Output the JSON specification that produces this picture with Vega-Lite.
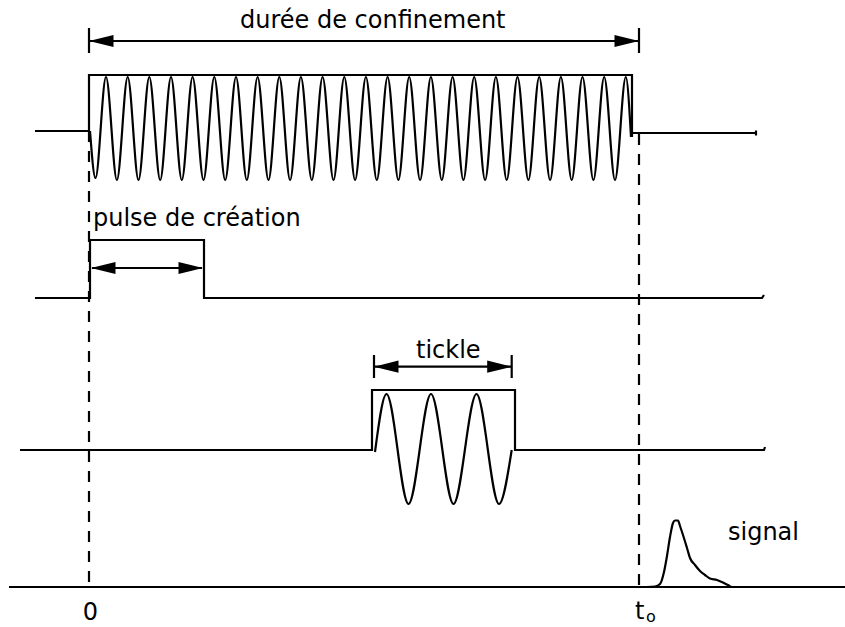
{
  "$schema": "https://vega.github.io/schema/vega-lite/v6.json",
  "width": 845,
  "height": 627,
  "padding": 0,
  "autosize": {"type": "none"},
  "background": "white",
  "config": {"view": {"stroke": null}},
  "datasets": {
    "lines": [
      {"g": "top_env", "o": 1, "x": 35, "y": 131},
      {"g": "top_env", "o": 2, "x": 89, "y": 131},
      {"g": "top_env", "o": 3, "x": 89, "y": 75},
      {"g": "top_env", "o": 4, "x": 632, "y": 75},
      {"g": "top_env", "o": 5, "x": 632, "y": 137},
      {"g": "top_right", "o": 1, "x": 632, "y": 133},
      {"g": "top_right", "o": 2, "x": 756, "y": 133},
      {"g": "top_end", "o": 1, "x": 756, "y": 130.5},
      {"g": "top_end", "o": 2, "x": 756, "y": 135.5},
      {"g": "arrow1", "o": 1, "x": 89, "y": 41},
      {"g": "arrow1", "o": 2, "x": 639, "y": 41},
      {"g": "bar1L", "o": 1, "x": 89, "y": 28},
      {"g": "bar1L", "o": 2, "x": 89, "y": 53},
      {"g": "bar1R", "o": 1, "x": 639, "y": 28},
      {"g": "bar1R", "o": 2, "x": 639, "y": 53},
      {"g": "pulse", "o": 1, "x": 35, "y": 298},
      {"g": "pulse", "o": 2, "x": 90, "y": 298},
      {"g": "pulse", "o": 3, "x": 90, "y": 240},
      {"g": "pulse", "o": 4, "x": 204, "y": 240},
      {"g": "pulse", "o": 5, "x": 204, "y": 298},
      {"g": "pulse", "o": 6, "x": 762, "y": 298},
      {"g": "pulse", "o": 7, "x": 764, "y": 295},
      {"g": "arrow2", "o": 1, "x": 92, "y": 268},
      {"g": "arrow2", "o": 2, "x": 202, "y": 268},
      {"g": "tickle", "o": 1, "x": 20, "y": 450},
      {"g": "tickle", "o": 2, "x": 372, "y": 450},
      {"g": "tickle", "o": 3, "x": 372, "y": 390},
      {"g": "tickle", "o": 4, "x": 515, "y": 390},
      {"g": "tickle", "o": 5, "x": 515, "y": 450},
      {"g": "tickle", "o": 6, "x": 764, "y": 450},
      {"g": "tickle", "o": 7, "x": 765, "y": 447},
      {"g": "arrow3", "o": 1, "x": 374, "y": 366.7},
      {"g": "arrow3", "o": 2, "x": 511.7, "y": 366.7},
      {"g": "bar3L", "o": 1, "x": 374, "y": 355},
      {"g": "bar3L", "o": 2, "x": 374, "y": 378},
      {"g": "bar3R", "o": 1, "x": 511.7, "y": 355},
      {"g": "bar3R", "o": 2, "x": 511.7, "y": 378},
      {"g": "axis", "o": 1, "x": 9, "y": 587},
      {"g": "axis", "o": 2, "x": 845, "y": 587}
    ],
    "osc": [
      {"g": "top", "x": 90, "y": 131},
      {"g": "top", "x": 95.5, "y": 178},
      {"g": "top", "x": 106.0, "y": 77},
      {"g": "top", "x": 116.9, "y": 180},
      {"g": "top", "x": 127.7, "y": 77},
      {"g": "top", "x": 138.5, "y": 180},
      {"g": "top", "x": 149.3, "y": 77},
      {"g": "top", "x": 160.2, "y": 180},
      {"g": "top", "x": 171.0, "y": 77},
      {"g": "top", "x": 181.8, "y": 180},
      {"g": "top", "x": 192.6, "y": 77},
      {"g": "top", "x": 203.5, "y": 180},
      {"g": "top", "x": 214.3, "y": 77},
      {"g": "top", "x": 225.2, "y": 180},
      {"g": "top", "x": 236.0, "y": 77},
      {"g": "top", "x": 246.8, "y": 180},
      {"g": "top", "x": 257.6, "y": 77},
      {"g": "top", "x": 268.5, "y": 180},
      {"g": "top", "x": 279.3, "y": 77},
      {"g": "top", "x": 290.1, "y": 180},
      {"g": "top", "x": 300.9, "y": 77},
      {"g": "top", "x": 311.8, "y": 180},
      {"g": "top", "x": 322.6, "y": 77},
      {"g": "top", "x": 333.5, "y": 180},
      {"g": "top", "x": 344.3, "y": 77},
      {"g": "top", "x": 355.1, "y": 180},
      {"g": "top", "x": 365.9, "y": 77},
      {"g": "top", "x": 376.8, "y": 180},
      {"g": "top", "x": 387.6, "y": 77},
      {"g": "top", "x": 398.4, "y": 180},
      {"g": "top", "x": 409.2, "y": 77},
      {"g": "top", "x": 420.1, "y": 180},
      {"g": "top", "x": 430.9, "y": 77},
      {"g": "top", "x": 441.8, "y": 180},
      {"g": "top", "x": 452.6, "y": 77},
      {"g": "top", "x": 463.4, "y": 180},
      {"g": "top", "x": 474.2, "y": 77},
      {"g": "top", "x": 485.1, "y": 180},
      {"g": "top", "x": 495.9, "y": 77},
      {"g": "top", "x": 506.7, "y": 180},
      {"g": "top", "x": 517.5, "y": 77},
      {"g": "top", "x": 528.4, "y": 180},
      {"g": "top", "x": 539.2, "y": 77},
      {"g": "top", "x": 550.1, "y": 180},
      {"g": "top", "x": 560.9, "y": 77},
      {"g": "top", "x": 571.7, "y": 180},
      {"g": "top", "x": 582.5, "y": 77},
      {"g": "top", "x": 593.4, "y": 180},
      {"g": "top", "x": 604.2, "y": 77},
      {"g": "top", "x": 615.0, "y": 180},
      {"g": "top", "x": 625.8, "y": 77},
      {"g": "top", "x": 631, "y": 137},
      {"g": "tick", "x": 375, "y": 452},
      {"g": "tick", "x": 386.5, "y": 394},
      {"g": "tick", "x": 408.5, "y": 504},
      {"g": "tick", "x": 431, "y": 394},
      {"g": "tick", "x": 453.5, "y": 504},
      {"g": "tick", "x": 476.5, "y": 394},
      {"g": "tick", "x": 499, "y": 504},
      {"g": "tick", "x": 511.7, "y": 450},
      {"g": "sig", "x": 646.7, "y": 587},
      {"g": "sig", "x": 655, "y": 586.5},
      {"g": "sig", "x": 660, "y": 584},
      {"g": "sig", "x": 664, "y": 572},
      {"g": "sig", "x": 667, "y": 556},
      {"g": "sig", "x": 670, "y": 537},
      {"g": "sig", "x": 673, "y": 523},
      {"g": "sig", "x": 675, "y": 520.5},
      {"g": "sig", "x": 678, "y": 520.5},
      {"g": "sig", "x": 680, "y": 526},
      {"g": "sig", "x": 683, "y": 535},
      {"g": "sig", "x": 687, "y": 548},
      {"g": "sig", "x": 690, "y": 558},
      {"g": "sig", "x": 695, "y": 565},
      {"g": "sig", "x": 700, "y": 571},
      {"g": "sig", "x": 705, "y": 575},
      {"g": "sig", "x": 710, "y": 578.5},
      {"g": "sig", "x": 717, "y": 580},
      {"g": "sig", "x": 723, "y": 582.5},
      {"g": "sig", "x": 728, "y": 585},
      {"g": "sig", "x": 732, "y": 587},
      {"g": "sig", "x": 741.7, "y": 587}
    ],
    "dashes": [
      {"g": "d0", "o": 1, "x": 89, "y": 131},
      {"g": "d0", "o": 2, "x": 89, "y": 587},
      {"g": "dt", "o": 1, "x": 639, "y": 134},
      {"g": "dt", "o": 2, "x": 639, "y": 587}
    ],
    "heads": [
      {"d": "L", "x": 89, "y": 41},
      {"d": "R", "x": 639, "y": 41},
      {"d": "L", "x": 91, "y": 268},
      {"d": "R", "x": 203, "y": 268},
      {"d": "L", "x": 374, "y": 366.7},
      {"d": "R", "x": 511.7, "y": 366.7}
    ],
    "labels": [
      {"k": "main", "t": "durée de confinement", "x": 240, "y": 28},
      {"k": "main", "t": "pulse de création", "x": 93, "y": 226},
      {"k": "main", "t": "tickle", "x": 416, "y": 357.5},
      {"k": "main", "t": "signal", "x": 728, "y": 539.5},
      {"k": "main", "t": "t", "x": 635, "y": 619},
      {"k": "center", "t": "0", "x": 90.5, "y": 620},
      {"k": "sub", "t": "o", "x": 646, "y": 622}
    ]
  },
  "encoding": {
    "x": {"field": "x", "type": "quantitative", "scale": {"domain": [0, 845], "nice": false, "zero": false}, "axis": null},
    "y": {"field": "y", "type": "quantitative", "scale": {"domain": [627, 0], "nice": false, "zero": false}, "axis": null}
  },
  "layer": [
    {
      "data": {"name": "lines"},
      "mark": {"type": "line", "color": "black", "strokeWidth": 2.2, "strokeCap": "butt", "strokeJoin": "miter"},
      "encoding": {"detail": {"field": "g"}, "order": {"field": "o", "type": "quantitative"}}
    },
    {
      "data": {"name": "osc"},
      "mark": {"type": "line", "color": "black", "strokeWidth": 2.2, "interpolate": "monotone"},
      "encoding": {"detail": {"field": "g"}}
    },
    {
      "data": {"name": "dashes"},
      "mark": {"type": "line", "color": "black", "strokeWidth": 2.2, "strokeDash": [11, 9]},
      "encoding": {"detail": {"field": "g"}, "order": {"field": "o", "type": "quantitative"}}
    },
    {
      "data": {"name": "heads"},
      "transform": [{"filter": "datum.d === 'L'"}],
      "mark": {"type": "point", "shape": "M0,0L2,-0.5L2,0.5Z", "size": 600, "filled": true, "color": "black", "opacity": 1, "strokeWidth": 0}
    },
    {
      "data": {"name": "heads"},
      "transform": [{"filter": "datum.d === 'R'"}],
      "mark": {"type": "point", "shape": "M0,0L-2,-0.5L-2,0.5Z", "size": 600, "filled": true, "color": "black", "opacity": 1, "strokeWidth": 0}
    },
    {
      "data": {"name": "labels"},
      "transform": [{"filter": "datum.k === 'main'"}],
      "mark": {"type": "text", "font": "DejaVu Sans", "fontSize": 24, "align": "left", "baseline": "alphabetic", "color": "black"},
      "encoding": {"text": {"field": "t"}}
    },
    {
      "data": {"name": "labels"},
      "transform": [{"filter": "datum.k === 'center'"}],
      "mark": {"type": "text", "font": "DejaVu Sans", "fontSize": 24, "align": "center", "baseline": "alphabetic", "color": "black"},
      "encoding": {"text": {"field": "t"}}
    },
    {
      "data": {"name": "labels"},
      "transform": [{"filter": "datum.k === 'sub'"}],
      "mark": {"type": "text", "font": "DejaVu Sans", "fontSize": 16, "align": "left", "baseline": "alphabetic", "color": "black"},
      "encoding": {"text": {"field": "t"}}
    }
  ]
}
